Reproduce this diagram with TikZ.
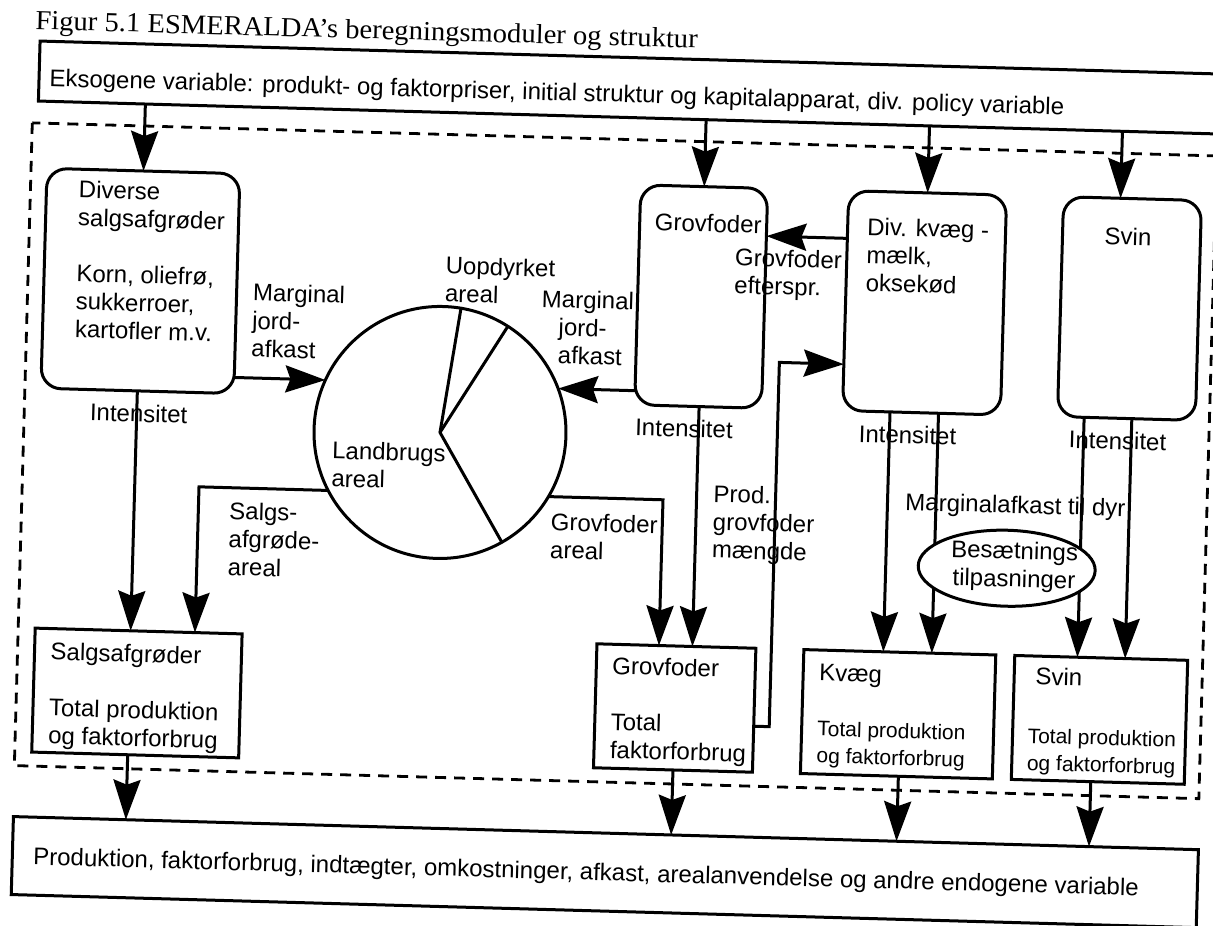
\documentclass[tikz,border=0pt]{standalone}
\usepackage{fontspec}
\setmainfont{Liberation Sans}
\newfontfamily\capfont[FakeStretch=1.04]{Liberation Serif}
\usetikzlibrary{arrows.meta,shapes.geometric}

\begin{document}
\begin{tikzpicture}[x=1pt,y=-1pt,
  every node/.style={inner sep=0pt,outer sep=0pt},
  bodyfont/.style={font=\fontsize{24}{28}\selectfont},
  smallfont/.style={font=\fontsize{21}{27}\selectfont},
  lblm/.style={bodyfont,anchor=north west,align=left},
  lbls/.style={bodyfont,anchor=base west},
  wline/.style={line width=3pt},
  flowarrow/.style={wline,-{Stealth[length=40pt,width=27pt,inset=5pt]}},
  module/.style={draw,wline,rounded corners=20pt,minimum width=#1,minimum height=220pt},
  totalbox/.style={draw,wline,minimum width=#1,minimum height=124pt},
  modelframe/.style={line width=2.8pt,dash pattern=on 11pt off 8pt}
]
\useasboundingbox (0,0) rectangle (1213,926);
\fill[white] (0,0) rectangle (1213,926);

\begin{scope}[transform canvas={rotate around={-1.6:(606,463)}}]

% caption
\node[anchor=base west,font=\capfont\fontsize{27.5}{32}\selectfont] (title) at (23.4,45.5)
  {Figur 5.1 ESMERALDA’s beregningsmoduler og struktur};

% exogenous input
\node[draw,wline,minimum width=1187.5pt,minimum height=60pt] (exo) at (622.25,87) {};
\node[lbls] (exotxt) at (39,102)
  {Eksogene variable: produkt- og faktorpriser, initial struktur og kapitalapparat, div. policy variable};

% model boundary
\draw[modelframe] (23,139) rectangle (1208,782);

% calculation modules
\node[module=193pt] (div) at (135.5,294) {};
\node[module=127pt] (grov) at (696.5,294) {};
\node[module=158pt] (kvaeg) at (920,294) {};
\node[module=138pt] (svin) at (1125,294) {};

\node[lblm] (divtxt) at (71.5,192.9)
  {\strut Diverse\\salgsafgrøder\\[28pt]Korn, oliefrø,\\sukkerroer,\\kartofler m.v.};
\node[lbls] (grovtxt) at (648.2,229.1) {Grovfoder};
\node[lblm] (kvaegtxt) at (860.7,208.3) {\strut Div. kvæg -\\mælk,\\oksekød};
\node[lbls] (svintxt) at (1098.2,230.4) {Svin};

% land use pie
\node[circle,draw,wline,minimum size=252pt] (land) at (439.2,437.1) {};
\draw[wline,line cap=round] (land.center) -- (land.82.4);
\draw[wline,line cap=round] (land.center) -- (land.59.8);
\draw[wline,line cap=round] (land.center) -- (land.-59.8);

\node[lblm] (uop) at (440.4,258.9) {\strut Uopdyrket\\areal};
\node[lblm] (lba) at (332.1,446.7) {\strut Landbrugs\\areal};
\node[lblm] (mj1) at (248.4,291.2) {\strut Marginal\\jord-\\afkast};
\node[lblm] (mj2) at (537.4,289.4) {\strut Marginal\\\hspace*{17.5pt}jord-\\\hspace*{17.5pt}afkast};

\node[lbls] (int1) at (88.8,435) {Intensitet};
\node[lbls] (int2) at (634.3,435) {Intensitet};
\node[lbls] (int3) at (857.9,435) {Intensitet};
\node[lbls] (int4) at (1068,435) {Intensitet};

\node[lblm] (gef) at (729.4,242.5) {\strut Grovfoder\\efterspr.};
\node[lblm] (sal) at (230.9,510.1) {\strut Salgs-\\afgrøde-\\areal};
\node[lblm] (gar) at (552.6,512.3) {\strut Grovfoder\\areal};
\node[lblm] (prod) at (714.5,479.4) {\strut Prod.\\grovfoder\\mængde};
\node[lbls] (mtd) at (906.4,501.8) {Marginalafkast til dyr};

% totals per sector
\node[totalbox=207pt] (salg) at (143.5,706) {};
\node[totalbox=159pt] (grovT) at (681.5,706) {};
\node[totalbox=192pt] (kvaegT) at (905,706) {};
\node[totalbox=173pt] (svinT) at (1106.5,706) {};

\node[lblm] (salgtxt) at (56.1,655.7)
  {\strut Salgsafgrøder\\[28pt]Total produktion\\og faktorforbrug};
\node[lblm] (grovTtxt) at (618,654.2) {\strut Grovfoder\\[28pt]Total\\faktorforbrug};
\node[lbls] (kvaegThd) at (825.1,674.9) {Kvæg};
\node[smallfont,anchor=north west,align=left] (kvaegTtxt) at (824.7,711.1)
  {\strut Total produktion\\og faktorforbrug};
\node[lbls] (svinThd) at (1041.3,672.9) {Svin};
\node[smallfont,anchor=north west,align=left] (svinTtxt) at (1035.2,712.3)
  {\strut Total produktion\\og faktorforbrug};

% endogenous output
\node[draw,wline,minimum width=1185.5pt,minimum height=78pt] (res) at (616.25,872) {};
\node[lbls] (restxt) at (44.5,880.5)
  {Produktion, faktorforbrug, indtægter, omkostninger, afkast, arealanvendelse og andre endogene variable};

% column positions of the connectors
\coordinate (svx) at (1113,0);
\coordinate (gf) at (0,231.7);
\coordinate (sa) at (199.8,0);
\coordinate (ga) at (664,0);
\coordinate (gi) at (697.5,0);
\coordinate (pv) at (776.5,722);
\coordinate (ph) at (776.5,357.6);
\coordinate (k1) at (888.5,0);
\coordinate (k2) at (937,0);
\coordinate (s1) at (1082.7,0);
\coordinate (s2) at (1130.4,0);
\coordinate (b1) at (136,0);
\coordinate (b3) at (907,0);
\coordinate (b4) at (1099.5,0);

% inputs into the modules
\draw[flowarrow] (div.north |- exo.south) -- (div.north);
\draw[flowarrow] (grov.north |- exo.south) -- (grov.north);
\draw[flowarrow] (kvaeg.north |- exo.south) -- (kvaeg.north);
\draw[flowarrow] (svx |- exo.south) -- (svx |- svin.north);

% links between modules
\draw[flowarrow] (kvaeg.west |- gf) -- (grov.east |- gf);
\draw[flowarrow] (div.east |- land.157.6) -- (land.157.6);
\draw[flowarrow] (grov.west |- land.22.4) -- (land.22.4);
\draw[flowarrow] (div.south) -- (div.south |- salg.north);
\draw[flowarrow] (land.209.7) -- (sa |- land.209.7) -- (sa |- salg.north);
\draw[flowarrow] (land.-29.7) -- (ga |- land.-29.7) -- (ga |- grovT.north);
\draw[flowarrow] (gi |- grov.south) -- (gi |- grovT.north);
\draw[flowarrow] (grovT.east |- pv) -- (pv) -- (ph) -- (kvaeg.west |- ph);
\draw[flowarrow] (k1 |- kvaeg.south) -- (k1 |- kvaegT.north);
\draw[flowarrow] (k2 |- kvaeg.south) -- (k2 |- kvaegT.north);
\draw[flowarrow] (s1 |- svin.south) -- (s1 |- svinT.north);
\draw[flowarrow] (s2 |- svin.south) -- (s2 |- svinT.north);

% herd adjustment
\node[ellipse,draw,wline,fill=white,minimum width=177pt,minimum height=76pt] (bes) at (1009.5,557) {};
\node[bodyfont,anchor=north,align=center] (bestxt) at (1017,527.9) {\strut Besætnings\\tilpasninger};

% outputs
\draw[flowarrow] (b1 |- salg.south) -- (b1 |- res.north);
\draw[flowarrow] (grovT.south) -- (grovT.south |- res.north);
\draw[flowarrow] (b3 |- kvaegT.south) -- (b3 |- res.north);
\draw[flowarrow] (b4 |- svinT.south) -- (b4 |- res.north);

\end{scope}
\end{tikzpicture}
\end{document}
